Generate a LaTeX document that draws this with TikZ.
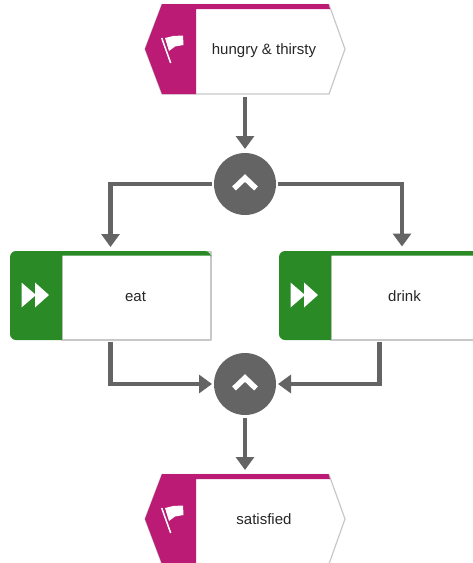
\documentclass[tikz,border=0pt]{standalone}
\usepackage{fontspec}
\setmainfont{Liberation Sans}
\usetikzlibrary{arrows.meta}
\definecolor{eventcol}{HTML}{BB1A75}
\definecolor{funccol}{HTML}{2A8A26}
\definecolor{linecol}{HTML}{646464}
\definecolor{edgecol}{HTML}{C8C8C8}
\tikzset{
	eventbox/.style={minimum width=200pt, minimum height=90pt, inner sep=0pt, outer sep=0pt},
	funcbox/.style={minimum width=201pt, minimum height=89pt, inner sep=0pt, outer sep=0pt},
	gate/.style={circle, fill=linecol, minimum size=62pt, inner sep=0pt, outer sep=0pt},
	boxlabel/.style={font=\fontsize{15}{17}\selectfont, text=black!85, inner sep=0pt, text height=14pt, text depth=3pt},
	flow/.style={line width=4.5pt, draw=linecol, -{Triangle[width=18pt,length=13pt]}},
	border/.style={draw=edgecol, line width=1.2pt, fill=white, line join=round}
}
\begin{document}
\begin{tikzpicture}[x=1pt, y=-1pt]
		\useasboundingbox (0,0) rectangle (473,563);
		
		%events
		\foreach \name/\y/\txt in {hungry/49/hungry \& thirsty, satisfied/519/satisfied}{
			\node (\name) at (245, \y) [eventbox]{};
			\begin{scope}[shift={(\name.center)}]
				\draw[border] (-83,-44.5)--(84,-44.5)--(100,0)--(84,45)--(-83,45)--(-100,0)--cycle;
				\fill[eventcol] (-83,-45)--(83.5,-45)--(85,-40)--(-49,-40)--(-49,45)--(-83,45)--(-100,0)--cycle;
				\draw[white, line width=1.5pt] (-83.3,-11)--(-74.3,14);
				\fill[white] (-80,-11)--(-72,-13)--(-62,-13.5)--(-61.5,-4)--(-70,-2.5)--(-76,2)--cycle;
			\end{scope}
			\node at (264, \y) [boxlabel]{\txt};
		}
		
		%functions
		\foreach \name/\x/\txt in {eat/110.5/eat, drink/379.5/drink}{
			\node (\name) at (\x, 295.5) [funcbox]{};
			\begin{scope}[shift={(\name.center)}]
				\draw[border] (-48.5,-44)--(100.5,-44)--(100.5,44.5)--(-48.5,44.5)--cycle;
				\fill[funccol] (-48.5,44.5) [rounded corners=6pt]--(-100.5,44.5)--(-100.5,-44.5)--(100.5,-44.5)[sharp corners]--(100.5,-40)--(-48.5,-40)--cycle;
				\fill[white] (-89,-13)--(-74.5,-0.5)--(-89,12)--cycle;
				\fill[white] (-75.5,-13)--(-61.5,-0.5)--(-75.5,12)--cycle;
			\end{scope}
			\node at ([xshift=25pt]\name.center) [boxlabel]{\txt};
		}
		
		%gates
		\node (split) at (245, 184) [gate]{};
		\node (join) at (245, 384) [gate]{};
		\foreach \g in {split, join}{
			\draw[white, line width=5.5pt] ([shift={(-11,4.5)}]\g.center)--([shift={(0,-6)}]\g.center)--([shift={(11,4.5)}]\g.center);
		}
		
		%connectors
		\coordinate (drinkin) at (402, 250.5);
		\draw[flow, shorten <=3pt, shorten >=4pt] (hungry.south)--(split.north);
		\draw[flow, shorten <=2pt, shorten >=4pt] (split.west)-|(eat.north);
		\draw[flow, shorten <=2pt, shorten >=4pt] (split.east)-|(drinkin);
		\draw[flow, shorten <=2pt, shorten >=2pt] (eat.south)|-(join.west);
		\draw[flow, shorten <=2pt, shorten >=2pt] (drink.south)|-(join.east);
		\draw[flow, shorten <=3pt, shorten >=4pt] (join.south)--(satisfied.north);
\end{tikzpicture}
\end{document}
